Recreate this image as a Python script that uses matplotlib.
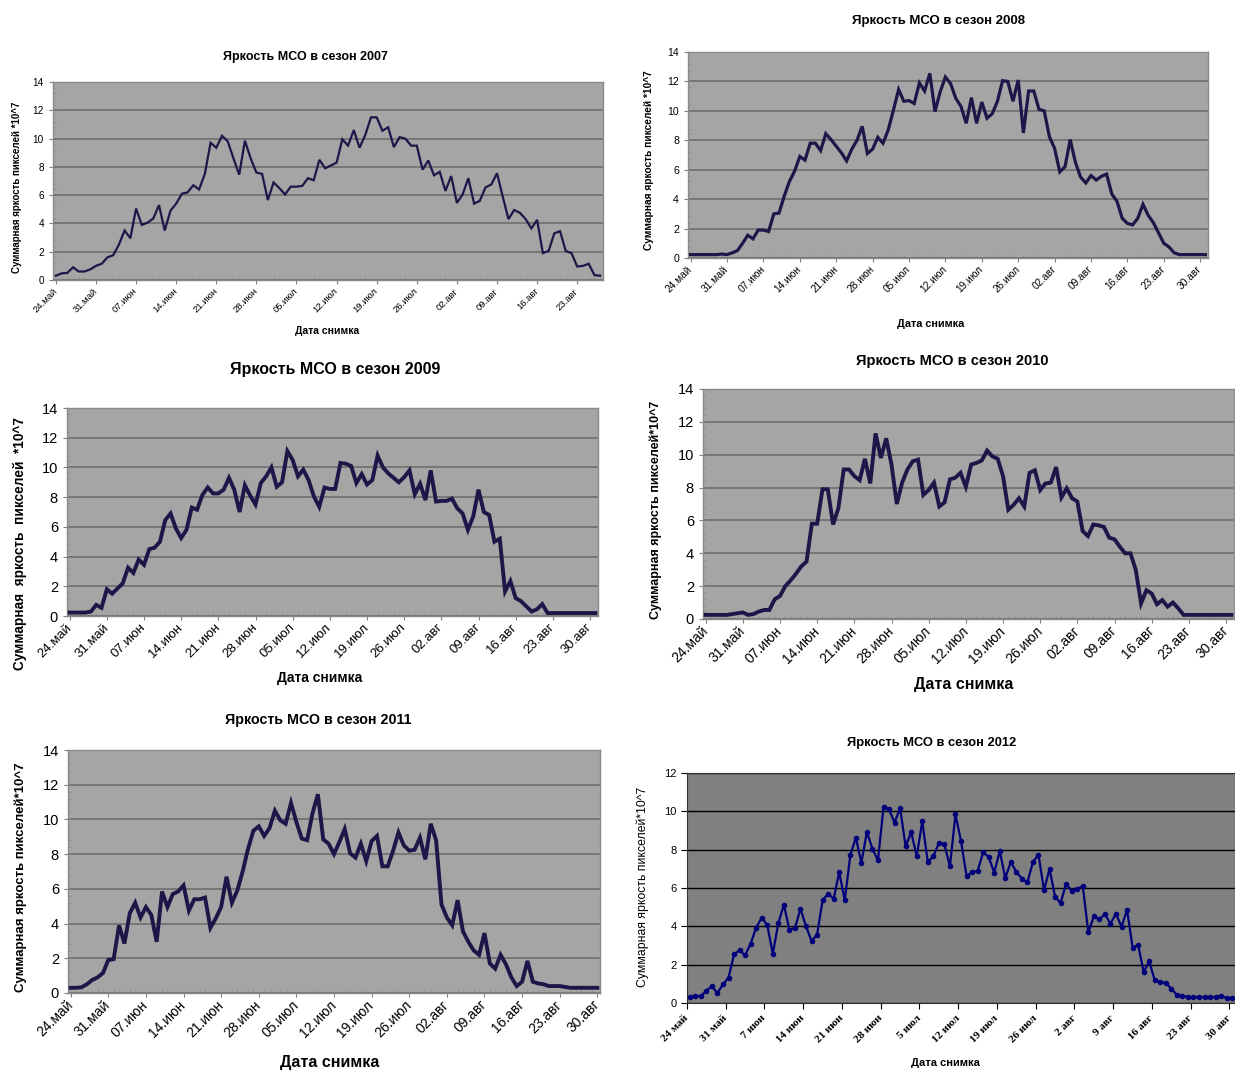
import numpy as np
import matplotlib
matplotlib.use("Agg")
import matplotlib.pyplot as plt
from matplotlib.ticker import MultipleLocator

W, H = 1235, 1070

WEEK_LABELS = ["24.май", "31.май", "07.июн", "14.июн", "21.июн", "28.июн", "05.июл",
               "12.июл", "19.июл", "26.июл", "02.авг", "09.авг", "16.авг", "23.авг", "30.авг"]
WEEK_LABELS_2012 = ["24 май", "31 май", "7 июн", "14 июн", "21 июн", "28 июн", "5 июл",
                    "12 июл", "19 июл", "26 июл", "2 авг", "9 авг", "16 авг", "23 авг", "30 авг"]

# daily brightness sums (x10^7), starting 24 May
BRIGHTNESS_2007 = [
    0.3, 0.47, 0.5, 0.9, 0.6, 0.6, 0.75, 1.0, 1.15, 1.6, 1.75, 2.5, 3.5, 2.95, 5.05, 3.9,
    4.05, 4.35, 5.3, 3.5, 4.9, 5.4, 6.1, 6.2, 6.7, 6.4, 7.5, 9.7, 9.35, 10.2, 9.8, 8.6,
    7.45, 9.85, 8.6, 7.6, 7.5, 5.65, 6.9, 6.5, 6.05, 6.6, 6.6, 6.65, 7.2, 7.05,
    8.5, 7.9, 8.1, 8.3, 9.95, 9.5, 10.6, 9.35, 10.25, 11.5, 11.5, 10.55, 10.8, 9.4, 10.1,
    10.0, 9.5, 9.5, 7.8, 8.45, 7.4, 7.65, 6.3, 7.35, 5.45, 6.05, 7.2, 5.4, 5.6, 6.55, 6.75,
    7.55, 5.9, 4.3, 4.95, 4.75, 4.3, 3.65, 4.25, 1.9, 2.05, 3.3, 3.45, 2.05, 1.9, 0.95,
    1.0, 1.15, 0.35, 0.3,
]
BRIGHTNESS_2008 = [
    0.23, 0.23, 0.23, 0.23, 0.23, 0.23, 0.27, 0.23, 0.35, 0.5, 1.0, 1.55, 1.3, 1.9, 1.9,
    1.8, 3.0, 3.05, 4.2, 5.2, 5.9, 6.9, 6.65, 7.8, 7.8, 7.3, 8.45, 8.05, 7.6, 7.15, 6.6,
    7.4, 8.0, 8.95, 7.1, 7.4, 8.2, 7.8, 8.7, 10.05, 11.45, 10.65, 10.7, 10.5, 11.9, 11.35,
    12.55, 9.95, 11.3, 12.3, 11.85, 10.85, 10.3, 9.15, 10.9, 9.15, 10.6, 9.5, 9.8, 10.65,
    12.05, 12.0, 10.65, 12.1, 8.5, 11.35, 11.35, 10.1, 10.0, 8.25, 7.45, 5.85, 6.2, 8.05,
    6.5, 5.5, 5.1, 5.6, 5.3, 5.55, 5.7, 4.35, 3.85, 2.7, 2.35, 2.25, 2.7, 3.65, 2.9, 2.4,
    1.7, 1.0, 0.75, 0.35, 0.23, 0.23, 0.23, 0.23, 0.23, 0.23,
]
BRIGHTNESS_2009 = [
    0.23, 0.23, 0.23, 0.23, 0.3, 0.75, 0.55, 1.8, 1.5, 1.85, 2.2, 3.25, 2.9, 3.8, 3.45,
    4.5, 4.6, 5.0, 6.45, 6.9, 5.9, 5.25, 5.8, 7.3, 7.15, 8.15, 8.65, 8.25, 8.25, 8.5, 9.3,
    8.5, 7.0, 8.8, 8.1, 7.5, 8.95, 9.4, 10.0, 8.7, 9.0, 11.1, 10.5, 9.4, 9.85, 9.15, 8.05,
    7.35, 8.65, 8.55, 8.55, 10.3, 10.25, 10.1, 8.95, 9.55, 8.85, 9.15, 10.8, 10.0, 9.6,
    9.3, 9.0, 9.35, 9.8, 8.2, 8.9, 7.8, 9.8, 7.7, 7.75, 7.75, 7.9, 7.25, 6.9, 5.8, 6.7,
    8.5, 7.0, 6.8, 5.0, 5.2, 1.65, 2.35, 1.2, 1.0, 0.65, 0.3, 0.45, 0.8, 0.2,
    0.2, 0.2, 0.2, 0.2, 0.2, 0.2, 0.2, 0.2, 0.2,
]
BRIGHTNESS_2010 = [
    0.25, 0.25, 0.25, 0.25, 0.25, 0.3, 0.35, 0.4, 0.25, 0.3, 0.45, 0.55, 0.55, 1.2, 1.4,
    2.0, 2.35, 2.75, 3.2, 3.5, 5.8, 5.8, 7.9, 7.9, 5.75, 6.75, 9.1, 9.1, 8.7, 8.45, 9.75,
    8.25, 11.3, 9.8, 11.0, 9.4, 7.0, 8.3, 9.1, 9.6, 9.7, 7.55, 7.85, 8.3, 6.85, 7.1, 8.5,
    8.6, 8.9, 8.05, 9.4, 9.5, 9.65, 10.25, 9.9, 9.75, 8.7, 6.65, 6.95, 7.35, 6.85, 8.9,
    9.05, 7.85, 8.25, 8.3, 9.25, 7.4, 7.95, 7.35, 7.15, 5.35, 5.05, 5.75, 5.7, 5.6, 4.95,
    4.85, 4.4, 4.0, 4.0, 3.0, 0.95, 1.75, 1.55, 0.9, 1.15, 0.75, 1.0, 0.65, 0.25,
    0.25, 0.25, 0.25, 0.25, 0.25, 0.25, 0.25, 0.25, 0.25,
]
BRIGHTNESS_2011 = [
    0.3, 0.3, 0.33, 0.5, 0.75, 0.9, 1.15, 1.9, 1.95, 3.9, 2.85, 4.6, 5.2, 4.35, 4.95, 4.5,
    2.95, 5.85, 4.95, 5.7, 5.85, 6.2, 4.75, 5.4, 5.4, 5.5, 3.75, 4.3, 4.95, 6.7, 5.2, 5.9,
    7.0, 8.3, 9.35, 9.6, 9.05, 9.5, 10.5, 9.95, 9.75, 10.95, 9.85, 8.9, 8.8, 10.35, 11.45,
    8.85, 8.6, 8.0, 8.7, 9.45, 8.05, 7.8, 8.6, 7.6, 8.75, 9.05, 7.3, 7.3, 8.2, 9.25, 8.5,
    8.2, 8.25, 8.95, 7.7, 9.75, 8.8, 5.1, 4.35, 3.9, 5.35, 3.55, 2.95, 2.45, 2.2, 3.45,
    1.7, 1.4, 2.2, 1.65, 0.9, 0.4, 0.65, 1.85, 0.65, 0.55, 0.5, 0.4, 0.4, 0.4, 0.35, 0.3,
    0.3, 0.3, 0.3, 0.3, 0.3,
]
BRIGHTNESS_2012 = [
    0.3, 0.37, 0.35, 0.65, 0.87, 0.52, 0.97, 1.32, 2.54, 2.75, 2.49, 3.1, 3.93, 4.45, 4.07,
    2.57, 4.17, 5.13, 3.83, 3.91, 4.92, 4.0, 3.23, 3.57, 5.36, 5.7, 5.44, 6.83, 5.36, 7.7,
    8.63, 7.32, 8.92, 8.05, 7.44, 10.23, 10.1, 9.41, 10.17, 8.17, 8.92, 7.65, 9.48, 7.36,
    7.65, 8.35, 8.28, 7.13, 9.84, 8.45, 6.63, 6.82, 6.89, 7.86, 7.62, 6.8, 7.93, 6.52,
    7.36, 6.83, 6.49, 6.3, 7.36, 7.74, 5.88, 7.0, 5.53, 5.22, 6.23, 5.83, 5.97, 6.1, 3.69,
    4.52, 4.37, 4.63, 4.14, 4.66, 3.97, 4.87, 2.89, 3.04, 1.62, 2.17, 1.18, 1.1, 1.04,
    0.75, 0.42, 0.37, 0.31, 0.31, 0.31, 0.31, 0.31, 0.31, 0.38, 0.24, 0.24,
]

SANS = "Liberation Sans"
SERIF = "Liberation Serif"


def px_rect(left, top, right, bottom):
    return [left / W, 1 - bottom / H, (right - left) / W, (bottom - top) / H]


def draw_excel_panel(fig, year, values, box, title_xy, title_size, ylab_xy, ylab_size,
                     xlab_xy, xlab_size, tick_size, ytick_size, lw,
                     ylabel="Суммарная яркость пикселей *10^7"):
    ax = fig.add_axes(px_rect(*box))
    days = np.arange(len(values))
    ax.set_facecolor("#a5a5a5")
    ax.plot(days, values, color="#1d1749", lw=lw, solid_joinstyle="miter", zorder=3)
    ax.set_yticks(np.arange(0, 15, 2))
    ax.yaxis.set_minor_locator(MultipleLocator(0.4))
    ax.set_xticks(np.arange(0, 7 * len(WEEK_LABELS), 7))
    ax.set_xticklabels(WEEK_LABELS, rotation=45, ha="right", va="center",
                       rotation_mode="anchor", fontsize=tick_size, family=SANS)
    # set_xticks widens the view, so the limits go after it
    ax.set_xlim(-0.5, len(values) - 0.5)
    ax.set_ylim(0, 14)
    ax.xaxis.set_minor_locator(MultipleLocator(1))
    ax.tick_params(axis="y", labelsize=ytick_size, length=3, color="#808080")
    ax.tick_params(axis="x", length=3, color="#808080", pad=4)
    ax.tick_params(which="minor", direction="in", length=2.5, color="#8e8e8e")
    for lab in ax.get_yticklabels():
        lab.set_family(SANS)
    ax.grid(axis="y", which="major", color="#6a6a6a", lw=1.1)
    ax.set_axisbelow(True)
    for sp in ax.spines.values():
        sp.set_color("#8a8a8a")
        sp.set_linewidth(1)
    fig.text(title_xy[0] / W, 1 - title_xy[1] / H, f"Яркость МСО в сезон {year}",
             ha="center", va="center", fontsize=title_size, weight="bold", family=SANS)
    fig.text(ylab_xy[0] / W, 1 - ylab_xy[1] / H, ylabel, rotation=90,
             ha="center", va="center", fontsize=ylab_size, weight="bold", family=SANS)
    fig.text(xlab_xy[0] / W, 1 - xlab_xy[1] / H, "Дата снимка",
             ha="center", va="center", fontsize=xlab_size, weight="bold", family=SANS)
    return ax


fig = plt.figure(figsize=(W / 100, H / 100), dpi=100)
fig.patch.set_facecolor("white")

draw_excel_panel(fig, 2007, BRIGHTNESS_2007, (53, 82, 603, 280), (305, 57), 9,
                 (17, 187), 7, (327, 331), 7.5, 6.8, 7.2, 1.6)
draw_excel_panel(fig, 2008, BRIGHTNESS_2008, (688, 52, 1208, 258), (938, 21), 9.5,
                 (649, 160), 7.3, (931, 324), 7.8, 7.3, 7.6, 2.3)
draw_excel_panel(fig, 2009, BRIGHTNESS_2009, (67, 408, 598, 616), (335, 370), 11.5,
                 (20, 543), 9.8, (320, 678), 10, 9.5, 10.5, 2.8,
                 ylabel="Суммарная  яркость  пикселей  *10^7")
draw_excel_panel(fig, 2010, BRIGHTNESS_2010, (703, 389, 1234, 619), (952, 361), 10.5,
                 (656, 510), 9, (964, 685), 11.5, 10, 10.5, 2.8,
                 ylabel="Суммарная яркость пикселей*10^7")
draw_excel_panel(fig, 2011, BRIGHTNESS_2011, (68, 750, 600, 993), (318, 720), 10.3,
                 (21, 877), 9.5, (330, 1062), 11.5, 10, 10.5, 2.8,
                 ylabel="Суммарная яркость пикселей*10^7")

# 2012: older chart style with markers on a dark background
ax = fig.add_axes(px_rect(687, 773, 1235, 1003))
days = np.arange(len(BRIGHTNESS_2012)) + 0.5
ax.set_facecolor("#808080")
ax.plot(days, BRIGHTNESS_2012, color="#00007a", lw=1.6, marker="o", ms=3, zorder=3)
ax.set_yticks(np.arange(0, 13, 2))
ax.set_xticks(np.arange(0, 7 * len(WEEK_LABELS_2012), 7))
ax.set_xticklabels(WEEK_LABELS_2012, rotation=45, ha="right", va="center",
                   rotation_mode="anchor", fontsize=8, family=SERIF, weight="bold")
ax.set_xlim(0, 99)
ax.set_ylim(0, 12)
for lab in ax.get_yticklabels():
    lab.set_family(SANS)
    lab.set_fontsize(8)
ax.tick_params(axis="both", length=4, color="black")
ax.tick_params(axis="x", pad=6)
ax.grid(axis="y", color="black", lw=1)
ax.set_axisbelow(True)
for sp in ax.spines.values():
    sp.set_color("#333333")
fig.text(932 / W, 1 - 743 / H, "Яркость МСО в сезон 2012", ha="center", va="center",
         fontsize=9.3, weight="bold", family=SANS)
fig.text(643 / W, 1 - 887 / H, "Суммарная яркость пикселей*10^7", rotation=90,
         ha="center", va="center", fontsize=8.8, family=SANS)
fig.text(945 / W, 1 - 1063 / H, "Дата снимка", ha="center", va="center",
         fontsize=8, weight="bold", family=SANS)

fig.savefig("out.png", dpi=100, facecolor="white")
